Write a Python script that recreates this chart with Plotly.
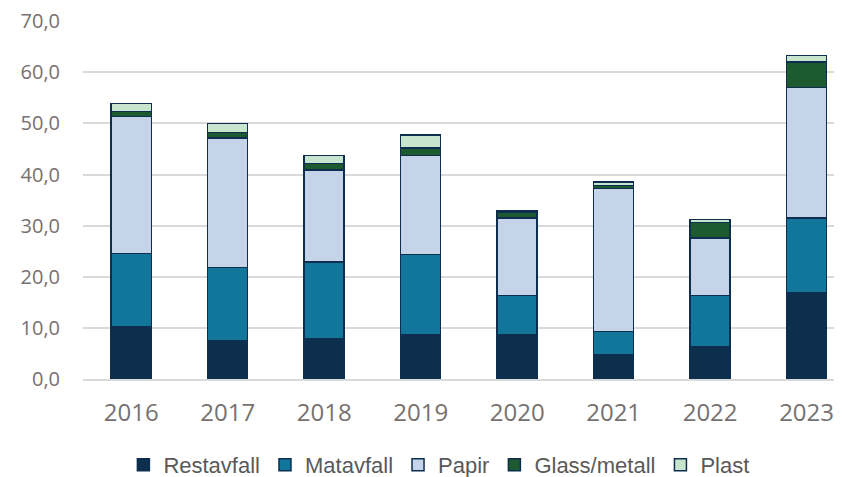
import plotly.graph_objects as go

years = ["2016", "2017", "2018", "2019", "2020", "2021", "2022", "2023"]
restavfall = [10.2, 7.5, 7.9, 8.6, 8.7, 4.8, 6.3, 16.9]
matavfall = [14.4, 14.3, 15.0, 15.8, 7.6, 4.5, 10.0, 14.6]
papir = [26.8, 25.4, 18.0, 19.3, 15.2, 28.0, 11.3, 25.5]
glass_metall = [0.9, 1.0, 1.3, 1.5, 1.1, 0.6, 3.0, 5.0]
plast = [1.6, 1.8, 1.5, 2.5, 0.3, 0.6, 0.6, 1.3]
y_ticks = [0, 10, 20, 30, 40, 50, 60, 70]

series = [
    ("Restavfall", restavfall, "#0c2f4d"),
    ("Matavfall", matavfall, "#12769a"),
    ("Papir", papir, "#c5d4e8"),
    ("Glass/metall", glass_metall, "#1d5a30"),
    ("Plast", plast, "#c7e4cc"),
]

fig = go.Figure()
for name, vals, color in series:
    fig.add_trace(go.Bar(
        x=years, y=vals, name=name,
        marker=dict(color=color, line=dict(color="#0d2e4e", width=1.5)),
    ))

fig.update_layout(
    barmode="stack",
    bargap=0.585,
    width=842, height=477,
    margin=dict(l=75, r=0, t=13, b=106, autoexpand=False),
    paper_bgcolor="white", plot_bgcolor="white",
    separators=", ",
    showlegend=True,
    legend=dict(
        orientation="h", xanchor="center", x=0.464, yanchor="middle", y=-0.24,
        font=dict(family="Liberation Sans, Arial", size=22, color="#595959"),
        traceorder="normal",
    ),
    xaxis=dict(
        type="category", range=[-0.5, 7.45], automargin=False,
        showline=True, linecolor="#d9d9d9", linewidth=1.5,
        ticks="", ticklabelstandoff=11,
        tickfont=dict(family="Open Sans", size=24, color="#767171"),
    ),
    yaxis=dict(
        range=[0, 70.05], tickmode="array", tickvals=y_ticks,
        tickformat=".1f", automargin=False,
        showgrid=True, gridcolor="#d9d9d9", gridwidth=1.5,
        zeroline=False, showline=False,
        ticks="", ticklabelstandoff=22, ticklabeloverflow="allow",
        tickfont=dict(family="Open Sans", size=20, color="#767171"),
    ),
)

fig.write_html("out.html")
